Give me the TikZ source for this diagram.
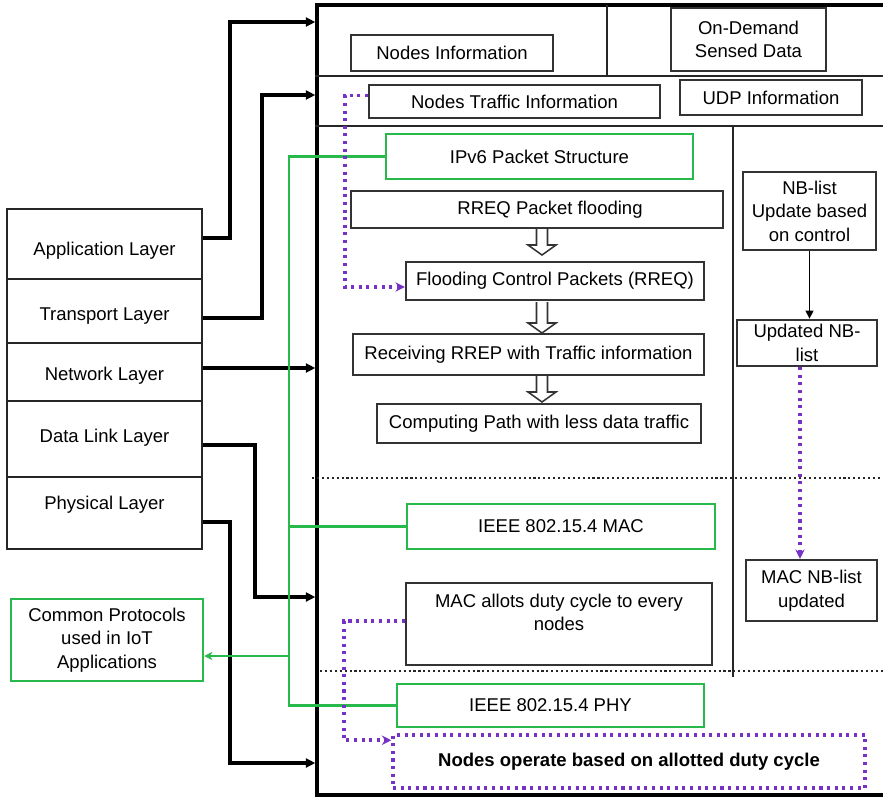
\documentclass[tikz,border=0pt]{standalone}
\usepackage{fontspec}
\setmainfont{Liberation Sans}
\usetikzlibrary{arrows.meta,calc}
\definecolor{grn}{RGB}{40,185,75}
\definecolor{prp}{RGB}{118,50,196}
\newcommand\bbox[7]{\node[#6, minimum width={(#4-#2)*0.03cm}, minimum height={(#5-#3)*0.03cm}] (#1) at ({(#2+#4)/2},{(#3+#5)/2}) {#7};}
\newcommand\harrow[3]{\draw[line width=1.3pt, fill=white, draw=black!80] (#1-5.5,#2) -- (#1-5.5,#3-10) -- (#1-14,#3-10) -- (#1,#3) -- (#1+14,#3-10) -- (#1+5.5,#3-10) -- (#1+5.5,#2);}
\begin{document}
\begin{tikzpicture}[x=0.03cm,y=-0.03cm,
  every node/.style={font=\fontsize{15.8}{20}\selectfont, inner sep=0pt, align=center},
  bx/.style={draw=black!80, line width=2pt, rectangle},
  gbx/.style={draw=grn, line width=2.1pt, rectangle},
  lbx/.style={draw=black!85, line width=2.4pt, rectangle},
  pdot/.style={draw=prp, line width=3pt, dash pattern=on 2.6pt off 3.9pt},
  pbx/.style={pdot, rectangle},
  framebox/.style={draw=black, line width=2.8pt, rectangle},
  sep/.style={draw=black!85, line width=2.2pt},
  vsep/.style={draw=black!85, line width=1.8pt},
  kdot/.style={draw=black!85, line width=2pt, dash pattern=on 1.8pt off 2.4pt},
  conn/.style={draw=black, line width=2.6pt, -{Triangle[length=8pt,width=7.5pt]}},
  thinconn/.style={draw=black, line width=1.6pt, -{Triangle[length=7pt,width=6.5pt]}},
  gline/.style={draw=grn, line width=2.1pt},
  parr/.style={pdot, -{Stealth[length=8pt,width=8pt]}},
]
\useasboundingbox (0,0) rectangle (883,800);
\fill[white] (0,0) rectangle (883,800);

% main frame
\bbox{frame}{317}{5}{897}{795}{framebox}{}
\coordinate (h1) at (0,76);
\coordinate (h2) at (0,126);
\draw[sep] (h1 -| frame.west) -- (883,76);
\draw[sep] (h2 -| frame.west) -- (883,126);
\draw[vsep] (607,5) -- (607,76);
\draw[vsep] (733,126) -- (733,677);
\draw[kdot] (312,478) -- (883,478);
\draw[kdot] (320,671) -- (883,671);

% top boxes
\bbox{nodinfo}{351}{35}{553}{71}{bx}{Nodes Information}
\bbox{ondem}{671}{8}{826}{71}{bx}{On-Demand\\Sensed Data}
\bbox{ntraf}{369}{85}{660}{118}{bx}{Nodes Traffic Information}
\bbox{udp}{680}{80}{862}{115}{bx}{UDP Information}

% network section
\bbox{ipv6}{386}{134}{693}{179}{gbx}{IPv6 Packet Structure}
\bbox{rreq}{351}{191}{723}{228}{bx}{\hspace*{0.78cm}RREQ Packet flooding}
\bbox{flood}{406}{262}{704}{300}{bx}{Flooding Control Packets (RREQ)}
\bbox{rrep}{353}{334}{704}{375}{bx}{Receiving RREP with Traffic information}
\bbox{comp}{377}{404}{701}{443}{bx}{Computing Path with less data traffic}
\harrow{542}{229}{255}
\harrow{542}{302}{333}
\harrow{542}{376}{402}

% right column
\bbox{nbl}{743}{172}{876}{250}{bx}{NB-list\\Update based\\on control}
\bbox{unb}{737}{320}{877}{366}{bx}{Updated NB-\\list}
\bbox{macnb}{746}{560}{877}{621}{bx}{MAC NB-list\\updated}
\draw[thinconn] (nbl.south) -- (nbl.south |- unb.north);
\coordinate (pv) at (800,0);
\draw[parr] (unb.south -| pv) -- (macnb.north -| pv);

% lower section
\bbox{mac}{407}{504}{715}{549}{gbx}{IEEE 802.15.4 MAC}
\bbox{macal}{406}{583}{712}{665}{bx}{MAC allots duty cycle to every\\nodes\\\mbox{}}
\bbox{phyb}{397}{684}{704}{727}{gbx}{IEEE 802.15.4 PHY}
\bbox{nop}{393}{735}{865}{788}{pbx}{\bfseries Nodes operate based on allotted duty cycle}

% layers
\bbox{app}{7}{209}{202}{279}{lbx,label={[yshift=-0.21cm]center:Application Layer}}{}
\bbox{trans}{7}{279}{202}{343}{lbx,label={[yshift=-0.15cm]center:Transport Layer}}{}
\bbox{net}{7}{343}{202}{401}{lbx,label={[yshift=-0.12cm]center:Network Layer}}{}
\bbox{dl}{7}{401}{202}{477}{lbx,label={[yshift=0.03cm]center:Data Link Layer}}{}
\bbox{phy}{7}{477}{202}{549}{lbx,label={[yshift=0.24cm]center:Physical Layer}}{}
\bbox{cp}{11}{599}{203}{681}{gbx}{Common Protocols\\used in IoT\\Applications}

% black connectors
\coordinate (a1) at (230,22);
\coordinate (a2) at (262,95);
\coordinate (a3) at (202,368);
\coordinate (a4) at (255,597);
\coordinate (a5) at (230,763);
\draw[conn] ($(app.east)+(0,-6)$) -| (a1) -- (a1 -| frame.west);
\draw[conn] ($(trans.east)+(0,7)$) -| (a2) -- (a2 -| frame.west);
\draw[conn] (a3 -| net.east) -- (a3 -| frame.west);
\draw[conn] ($(dl.east)+(0,6)$) -| (a4) -- (a4 -| frame.west);
\draw[conn] ($(phy.east)+(0,9)$) -| (a5) -- (a5 -| frame.west);

% green connectors
\coordinate (gx) at (289,0);
\coordinate (gy) at (0,656);
\draw[gline] (ipv6.west) -- (ipv6.west -| gx) -- (phyb.west -| gx) -- (phyb.west);
\draw[gline] (mac.west -| gx) -- (mac.west);
\draw[gline, -{Stealth[length=7pt,width=7pt]}] (gy -| gx) -- (gy -| cp.east);

% purple connectors
\draw[parr] ($(ntraf.west)+(0,-6)$) -- ++(-23,0) |- ($(flood.west)+(0,6)$);
\draw[parr] ($(macal.west)+(0,-3)$) -- ++(-61,0) |- ($(nop.north west)+(0,7)$);
\end{tikzpicture}
\end{document}
